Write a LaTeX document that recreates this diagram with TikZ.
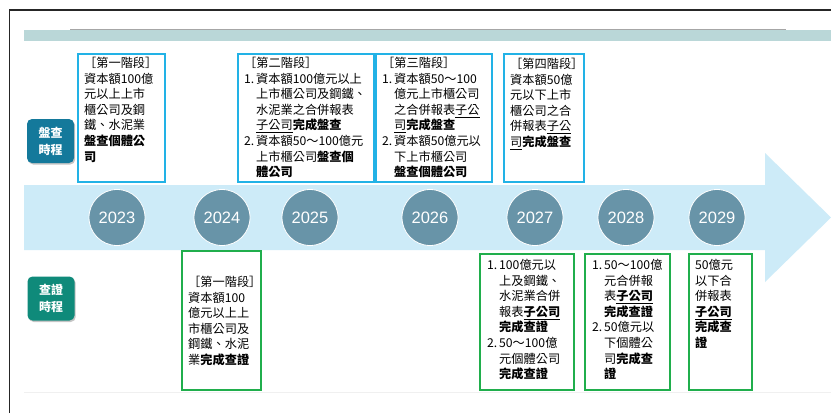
\documentclass[tikz,border=0pt]{standalone}
\usepackage{fontspec}
\setmainfont{Noto Sans CJK TC}
\newfontfamily\yearfont{Liberation Sans}
\usetikzlibrary{shadows}
\definecolor{boxblue}{HTML}{22B2E6}
\definecolor{boxgreen}{HTML}{20AE4C}
\definecolor{arrowfill}{HTML}{CDEBF8}
\definecolor{barfill}{HTML}{BAD7D8}
\definecolor{yearfill}{HTML}{6894A8}
\definecolor{lblone}{HTML}{14799B}
\definecolor{lbltwo}{HTML}{0F8A7A}
\newcommand\myone{\makebox[12pt][l]{1.}}
\newcommand\mytwo{\makebox[12pt][l]{2.}}
\newcommand\myind{\hspace*{12pt}}
\tikzset{
  topbox/.style={draw=boxblue, line width=1.6pt, fill=white, anchor=north west, inner sep=0pt},
  botbox/.style={draw=boxgreen, line width=1.6pt, fill=white, anchor=north west, inner sep=0pt},
  txt/.style={anchor=north west, align=left, inner sep=0pt, font=\fontsize{12.2}{15.6}\selectfont},
  yr/.style={circle, fill=yearfill, draw=white, line width=0.8pt, minimum size=56pt, inner sep=0pt,
    text=white, font=\yearfont\fontsize{16.5}{18}\selectfont},
  lbl/.style={rounded corners=5pt, minimum width=47pt, minimum height=44pt, inner sep=0pt,
    text=white, align=center, font=\bfseries\fontsize{12}{17}\selectfont,
    drop shadow={opacity=0.45, shadow xshift=1.2pt, shadow yshift=-1.5pt}},
}
\begin{document}
\begin{tikzpicture}[x=1pt,y=-1pt]
\useasboundingbox (0,0) rectangle (831,413);
\fill[white] (0,0) rectangle (831,413);
% frame lines
\draw[line width=1.3pt, black!85] (9.5,413) -- (9.5,10) -- (831,10);
\draw[line width=0.7pt, black!35] (70,29.5) -- (786,29.5);
\fill[barfill] (24,30) rectangle (831,41);
\draw[black!6, line width=0.6pt] (24,392) -- (831,392);
% arrow
\fill[arrowfill] (24,185) -- (765,185) -- (765,153) -- (831,217.5) -- (765,282) -- (765,250) -- (24,250) -- cycle;
% labels
\node[lbl, fill=lblone] (l1) at (50.5,141) {盤查\\時程};
\node[lbl, fill=lbltwo] (l2) at (51,298.5) {查證\\時程};
% years
\node[yr] (y23) at (117,217.5) {2023};
\node[yr] (y24) at (222,217.5) {2024};
\node[yr] (y25) at (310,217.5) {2025};
\node[yr] (y26) at (430,217.5) {2026};
\node[yr] (y27) at (535,217.5) {2027};
\node[yr] (y28) at (626,217.5) {2028};
\node[yr] (y29) at (717,217.5) {2029};
% top boxes
\node[topbox, minimum width=87pt, minimum height=128pt] (b1) at (77,53) {};
\node[topbox, minimum width=136pt, minimum height=128pt] (b2) at (237,53) {};
\node[topbox, minimum width=116pt, minimum height=128pt] (b3) at (375,53) {};
\node[topbox, minimum width=80pt, minimum height=128pt] (b4) at (503,53) {};
\node[txt] (t1) at (84,57) {［第一階段］\\資本額100億\\元以上上市\\櫃公司及鋼\\鐵、水泥業\\\textbf{盤查個體公}\\\textbf{司}};
\node[txt] (t2) at (244,57) {［第二階段］\\\myone 資本額100億元以上\\\myind 上市櫃公司及鋼鐵、\\\myind 水泥業之合併報表\\\myind \underline{子公司}\textbf{完成盤查}\\\mytwo 資本額50～100億元\\\myind 上市櫃公司\textbf{盤查個}\\\myind \textbf{體公司}};
\node[txt] (t3) at (382,57) {［第三階段］\\\myone 資本額50～100\\\myind 億元上市櫃公司\\\myind 之合併報表\underline{子公}\\\myind \underline{司}\textbf{完成盤查}\\\mytwo 資本額50億元以\\\myind 下上市櫃公司\\\myind \textbf{盤查個體公司}};
\node[txt] (t4) at (510,58) {［第四階段］\\資本額50億\\元以下上市\\櫃公司之合\\併報表\underline{子公}\\\underline{司}\textbf{完成盤查}};
% bottom boxes
\node[botbox, minimum width=79pt, minimum height=139pt] (ba) at (181,250) {};
\node[botbox, minimum width=94pt, minimum height=136pt] (bb) at (479,253) {};
\node[botbox, minimum width=85pt, minimum height=136pt] (bc) at (584,253) {};
\node[botbox, minimum width=63pt, minimum height=136pt] (bd) at (688,253) {};
\node[txt] (ta) at (188,276) {［第一階段］\\資本額100\\億元以上上\\市櫃公司及\\鋼鐵、水泥\\業\textbf{完成查證}};
\node[txt] (tb) at (487,259) {\myone 100億元以\\\myind 上及鋼鐵、\\\myind 水泥業合併\\\myind 報表\textbf{\underline{子公司}}\\\myind \textbf{完成查證}\\\mytwo 50～100億\\\myind 元個體公司\\\myind \textbf{完成查證}};
\node[txt] (tc) at (592,259) {\myone 50～100億\\\myind 元合併報\\\myind 表\textbf{\underline{子公司}}\\\myind \textbf{完成查證}\\\mytwo 50億元以\\\myind 下個體公\\\myind 司\textbf{完成查}\\\myind \textbf{證}};
\node[txt] (td) at (695,259) {50億元\\以下合\\併報表\\\textbf{\underline{子公司}}\\\textbf{完成查}\\\textbf{證}};
\end{tikzpicture}
\end{document}
